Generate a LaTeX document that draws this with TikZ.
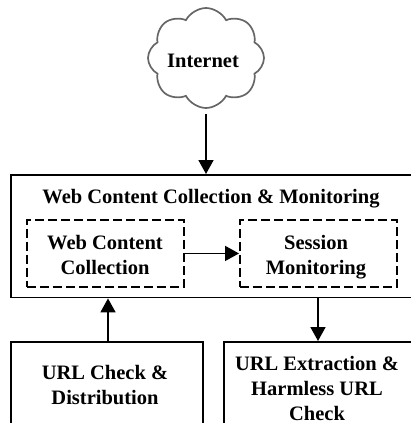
\documentclass[tikz,border=0pt]{standalone}
\usepackage{fontspec}
\setmainfont{Liberation Serif}
\usetikzlibrary{arrows.meta,shapes.symbols}
\tikzset{
  x=1pt,y=-1pt,
  solidbox/.style={draw=black,line width=1.9pt,rectangle,inner sep=0pt,anchor=north west},
  dashbox/.style={draw=black,line width=1.9pt,dash pattern=on 9pt off 4pt,rectangle,inner sep=0pt,anchor=north west,minimum width=157pt,minimum height=67pt},
  lbl/.style={font=\fontsize{20.5}{25}\selectfont\bfseries,align=center,inner sep=0pt,text depth=0pt},
  conn/.style={draw=black,line width=1.7pt,-{Triangle[width=15pt,length=14pt]}}
}
\begin{document}
\begin{tikzpicture}
\path[use as bounding box,clip] (0,0) rectangle (411,423);
\node[cloud,cloud puffs=8,cloud puff arc=125,draw=black!60,line width=1.7pt,minimum width=116pt,minimum height=100pt,inner sep=0pt] (inet) at (206,58) {};
\node[lbl] (inetlabel) at (203,61) {Internet};
\node[solidbox,minimum width=440pt,minimum height=122.5pt] (main) at (10,174) {};
\node[lbl] (title) at (211,196) {Web Content Collection \& Monitoring};
\node[dashbox] (wcc) at (26,219) {};
\node[lbl] (wcctext) at (105,254.5) {Web Content\\Collection};
\node[dashbox] (sm) at (239,219) {};
\node[lbl] (smtext) at (316,254.5) {Session\\Monitoring};
\node[solidbox,minimum width=192pt,minimum height=120pt] (lbox) at (10,341) {};
\node[lbl] (ltext) at (105,385) {URL Check \&\\Distribution};
\node[solidbox,minimum width=240pt,minimum height=120pt] (rbox) at (223,341) {};
\node[lbl] (rtext) at (317,388) {URL Extraction \&\\Harmless URL\\Check};
\coordinate (upx) at (108,320);
\coordinate (downx) at (318,320);
\draw[conn] (inet.south |- 0,114) -- (inet.south |- main.north);
\draw[conn] (wcc.east) -- (sm.west);
\draw[conn] (upx |- lbox.north) -- (upx |- main.south);
\draw[conn] (downx |- main.south) -- (downx |- rbox.north);
\end{tikzpicture}
\end{document}
